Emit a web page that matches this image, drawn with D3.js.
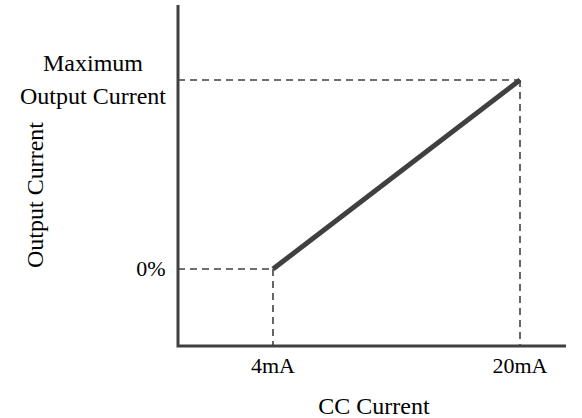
<!DOCTYPE html>
<html>
<head>
<meta charset="utf-8">
<script src="https://cdn.jsdelivr.net/npm/d3@7"></script>
<style>
  html, body { margin: 0; padding: 0; background: #fff; }
  svg { display: block; font-family: "Liberation Serif", "Times New Roman", serif; }
</style>
</head>
<body>
<div class="canvas"></div>
<script>
// input current (mA) vs output current (% of max)
const inputMA = [4, 20];
const outputPct = [0, 100];
const xTickLabels = ['4mA', '20mA'];
const yTickLabels = [['0%'], ['Maximum', 'Output Current']];
const xTitle = 'CC Current';
const yTitle = 'Output Current';

const width = 582, height = 418;
const originX = 178, originY = 346;
const axisRight = 566, axisTop = 5;
const ink = '#404040';

const svg = d3.select('.canvas')
    .append('svg')
    .attr('width', width)
    .attr('height', height);

const x = d3.scaleLinear().domain([4, 20]).range([273, 520]);
const y = d3.scaleLinear().domain([0, 100]).range([269, 80]);

const pts = inputMA.map((v, i) => ({ x: v, y: outputPct[i] }));

// dashed guides
const guides = svg.append('g')
    .attr('stroke', ink)
    .attr('stroke-width', 1.6)
    .attr('stroke-dasharray', '7,5');

guides.selectAll('line.h')
    .data(pts)
    .enter()
    .append('line')
    .attr('class', 'h')
    .attr('x1', originX)
    .attr('x2', d => x(d.x))
    .attr('y1', d => y(d.y))
    .attr('y2', d => y(d.y));

guides.selectAll('line.v')
    .data(pts)
    .enter()
    .append('line')
    .attr('class', 'v')
    .attr('x1', d => x(d.x))
    .attr('x2', d => x(d.x))
    .attr('y1', d => y(d.y))
    .attr('y2', originY);

// axes
svg.append('path')
    .attr('d', `M${originX},${axisTop}V${originY}H${axisRight}`)
    .attr('fill', 'none')
    .attr('stroke', ink)
    .attr('stroke-width', 3);

// response line
svg.append('path')
    .datum(pts)
    .attr('d', d3.line().x(d => x(d.x)).y(d => y(d.y)))
    .attr('fill', 'none')
    .attr('stroke', ink)
    .attr('stroke-width', 5);

// x tick labels
svg.selectAll('text.xt')
    .data(inputMA)
    .enter()
    .append('text')
    .attr('class', 'xt')
    .attr('x', d => x(d))
    .attr('y', originY + 27)
    .attr('text-anchor', 'middle')
    .attr('font-size', 22)
    .text((d, i) => xTickLabels[i]);

// y tick labels
const yt = svg.selectAll('text.yt')
    .data(outputPct)
    .enter()
    .append('text')
    .attr('class', 'yt')
    .attr('font-size', (d, i) => i === 0 ? 22 : 24)
    .attr('text-anchor', 'middle')
    .attr('x', (d, i) => i === 0 ? 151 : 93)
    .attr('y', d => y(d));

yt.selectAll('tspan')
    .data((d, i) => yTickLabels[i].map((t, j, arr) => ({ t, dy: (j - (arr.length - 1) / 2) * 33 })))
    .enter()
    .append('tspan')
    .attr('x', function () { return d3.select(this.parentNode).attr('x'); })
    .attr('dy', (d, j) => j === 0 ? d.dy + 7 : 33)
    .text(d => d.t);

// axis titles
svg.append('text')
    .attr('x', 374)
    .attr('y', 414)
    .attr('text-anchor', 'middle')
    .attr('font-size', 24)
    .text(xTitle);

svg.append('text')
    .attr('transform', `translate(43, 195) rotate(-90)`)
    .attr('text-anchor', 'middle')
    .attr('font-size', 24)
    .text(yTitle);
</script>
</body>
</html>
